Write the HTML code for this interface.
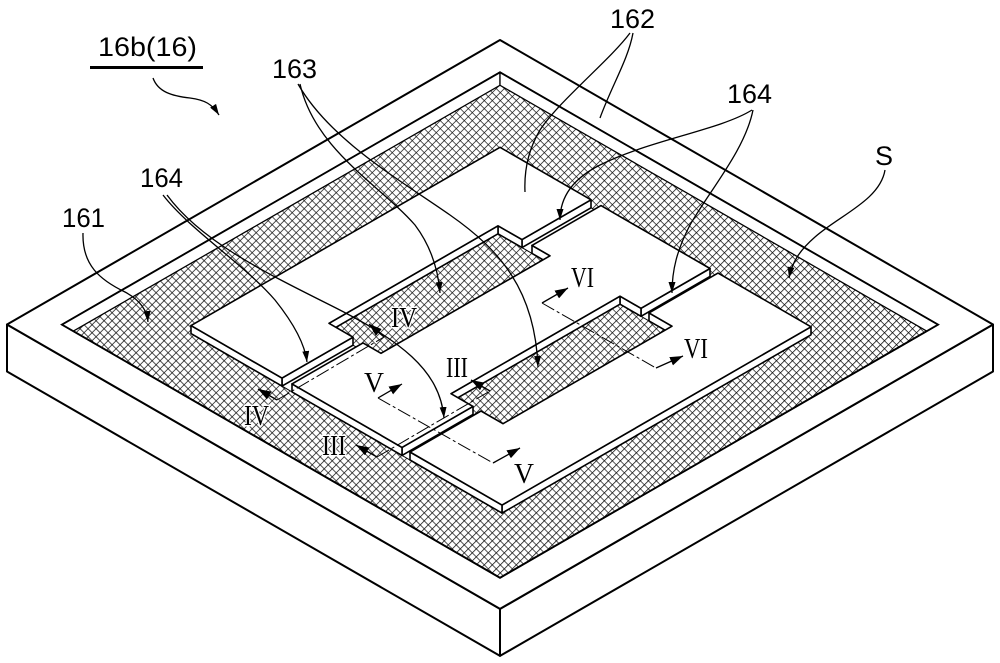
<!DOCTYPE html>
<html><head><meta charset="utf-8"><style>html,body{margin:0;padding:0;background:#fff}svg{display:block}</style></head>
<body>
<svg xmlns="http://www.w3.org/2000/svg" width="1000" height="663" viewBox="0 0 1000 663">
<defs>
<pattern id="h" width="5.66" height="5.66" patternUnits="userSpaceOnUse" patternTransform="rotate(45)">
<rect width="5.66" height="5.66" fill="#fff"/>
<path d="M0,0 H5.66 M0,0 V5.66" stroke="#111" stroke-width="1.5" fill="none"/>
</pattern>
<clipPath id="rc"><polygon points="500,72.3 938,324.6 500,577.8 62,324.6"/></clipPath>
<marker id="ah" viewBox="0 0 11 7" refX="11" refY="3.5" markerWidth="11" markerHeight="7" markerUnits="userSpaceOnUse" orient="auto"><path d="M0,0 L11,3.5 L0,7 z" fill="#000"/></marker>
<marker id="ah2" viewBox="0 0 13 9" refX="13" refY="4.5" markerWidth="13" markerHeight="9" markerUnits="userSpaceOnUse" orient="auto"><path d="M0,0 L13,4.5 L0,9 z" fill="#000"/></marker>
</defs>

<!-- base -->
<g stroke="#000" stroke-width="2" fill="#fff" stroke-linejoin="round">
<polygon points="7,324.5 500,608.9 500,655.9 7,371.5"/>
<polygon points="500,608.9 993,324.5 993,371.5 500,655.9"/>
<polygon points="500,40 993,324.5 500,608.9 7,324.5"/>
</g>

<!-- recess with hatch -->
<polygon points="500,72.3 938,324.6 500,577.8 62,324.6" fill="url(#h)" stroke="#000" stroke-width="1.8"/>
<g clip-path="url(#rc)" fill="#fff" stroke="#000" stroke-width="1.3">
<polygon points="500,72.3 62,324.6 62,337.6 500,85.3"/>
<polygon points="500,72.3 938,324.6 938,337.6 500,85.3"/>
</g>
<polygon points="500,72.3 938,324.6 500,577.8 62,324.6" fill="none" stroke="#000" stroke-width="1.8"/>

<!-- slit floors -->
<g fill="#fff" stroke="#000" stroke-width="1">
<polygon points="591,207.8 601,213.6 532,253.4 522,247.6"/>
<polygon points="353,345.2 363,350.9 292,391.9 282,386.1"/>
<polygon points="710,276.5 718,281.1 649,320.9 641,316.3"/>
<polygon points="473,414.4 481,419 410,460 402,455.4"/>
</g>

<!-- electrodes -->
<g fill="#fff" stroke="#000" stroke-width="1.6" stroke-linejoin="round">
<polygon points="591,199.8 522,239.6 522,247.6 591,207.8"/>
<polygon points="522,239.6 498,225.8 498,233.8 522,247.6"/>
<polygon points="498,225.8 329,323.3 329,331.3 498,233.8"/>
<polygon points="353,337.2 282,378.1 282,386.1 353,345.2"/>
<polygon points="282,378.1 191,325.6 191,333.6 282,386.1"/>
<polygon points="500,147.3 591,199.8 522,239.6 498,225.8 329,323.3 353,337.2 282,378.1 191,325.6"/>
<polygon points="710,268.5 641,308.3 641,316.3 710,276.5"/>
<polygon points="641,308.3 620,296.2 620,304.2 641,316.3"/>
<polygon points="620,296.2 451,393.7 451,401.7 620,304.2"/>
<polygon points="473,406.4 402,447.4 402,455.4 473,414.4"/>
<polygon points="402,447.4 292,383.9 292,391.9 402,455.4"/>
<polygon points="550,255.8 532,245.4 532,253.4 550,263.8"/>
<polygon points="601,205.6 710,268.5 641,308.3 620,296.2 451,393.7 473,406.4 402,447.4 292,383.9 363,342.9 381,353.3 550,255.8 532,245.4"/>
<polygon points="811,326.8 502,505.1 502,513.1 811,334.8"/>
<polygon points="502,505.1 410,452 410,460 502,513.1"/>
<polygon points="672,326.2 649,312.9 649,320.9 672,334.2"/>
<polygon points="718,273.1 811,326.8 502,505.1 410,452 481,411 503,423.7 672,326.2 649,312.9"/>
</g>

<!-- section lines -->
<g fill="none" stroke="#000" stroke-width="1" stroke-dasharray="14 3 3 3">
<line x1="277" y1="400" x2="384" y2="337"/>
<line x1="377" y1="457" x2="490" y2="391"/>
<line x1="378" y1="398" x2="493" y2="463"/>
<line x1="542" y1="303" x2="656" y2="368"/>
</g>
<g fill="none" stroke="#000" stroke-width="1.3">
<line x1="277" y1="400" x2="258" y2="389" marker-end="url(#ah2)"/>
<line x1="384" y1="337" x2="369" y2="324" marker-end="url(#ah2)"/>
<line x1="377" y1="457" x2="356" y2="445" marker-end="url(#ah2)"/>
<line x1="490" y1="391" x2="471" y2="380" marker-end="url(#ah2)"/>
<line x1="378" y1="398" x2="402" y2="384" marker-end="url(#ah2)"/>
<line x1="493" y1="463" x2="520" y2="448" marker-end="url(#ah2)"/>
<line x1="542" y1="303" x2="568" y2="288" marker-end="url(#ah2)"/>
<line x1="656" y1="368" x2="683" y2="356" marker-end="url(#ah2)"/>
</g>

<!-- leaders -->
<g fill="none" stroke="#000" stroke-width="1.3">
<path d="M153,78 C158,92 172,96 190,98 C205,100 212,104 219,115" marker-end="url(#ah)"/>
<path d="M300,84 C315,150 380,185 415,225 C430,245 438,268 440,293" marker-end="url(#ah)"/>
<path d="M298,84 C330,140 400,180 450,215 C500,250 535,290 538,367" marker-end="url(#ah)"/>
<path d="M163,195 C190,230 245,265 275,300 C295,325 305,345 307,362" marker-end="url(#ah)"/>
<path d="M167,195 C200,240 260,270 330,305 C400,340 440,370 444,418" marker-end="url(#ah)"/>
<path d="M83,233 C82,265 100,280 125,292 C140,300 147,310 148,322" marker-end="url(#ah)"/>
<path d="M630,33 C610,60 560,100 540,130 C528,150 524,170 525,192"/>
<path d="M633,33 C628,60 612,85 600,118"/>
<path d="M752,110 C720,130 650,140 600,165 C570,180 560,200 560,220" marker-end="url(#ah)"/>
<path d="M753,110 C745,150 710,190 690,225 C677,250 672,270 672,293" marker-end="url(#ah)"/>
<path d="M885,170 C880,200 840,215 815,237 C800,250 792,262 789,278" marker-end="url(#ah)"/>
</g>

<!-- labels -->
<g font-family="'Liberation Sans', Arial, sans-serif" font-size="27" fill="#000">
<text x="98" y="56" textLength="99" lengthAdjust="spacingAndGlyphs">16b(16)</text>
<text x="272" y="78" textLength="45" lengthAdjust="spacingAndGlyphs">163</text>
<text x="610" y="28" textLength="45" lengthAdjust="spacingAndGlyphs">162</text>
<text x="727" y="103" textLength="45" lengthAdjust="spacingAndGlyphs">164</text>
<text x="140" y="187" textLength="43" lengthAdjust="spacingAndGlyphs">164</text>
<text x="62" y="227" textLength="43" lengthAdjust="spacingAndGlyphs">161</text>
<text x="875" y="165" textLength="18" lengthAdjust="spacingAndGlyphs">S</text>
</g>
<line x1="90" y1="67.5" x2="203" y2="67.5" stroke="#000" stroke-width="3"/>

<g font-family="'Liberation Serif', 'Times New Roman', serif" font-size="29" fill="#000" stroke="#fff" stroke-width="3" paint-order="stroke">
<text x="391" y="327" textLength="26" lengthAdjust="spacingAndGlyphs">IV</text>
<text x="244" y="425" textLength="25" lengthAdjust="spacingAndGlyphs">IV</text>
<text x="446" y="377" textLength="22" lengthAdjust="spacingAndGlyphs">III</text>
<text x="322" y="455" textLength="24" lengthAdjust="spacingAndGlyphs">III</text>
<text x="364" y="392" textLength="20" lengthAdjust="spacingAndGlyphs">V</text>
<text x="514" y="483" textLength="20" lengthAdjust="spacingAndGlyphs">V</text>
<text x="571" y="287" textLength="23" lengthAdjust="spacingAndGlyphs">VI</text>
<text x="684" y="358" textLength="24" lengthAdjust="spacingAndGlyphs">VI</text>
</g>
</svg>
</body></html>
